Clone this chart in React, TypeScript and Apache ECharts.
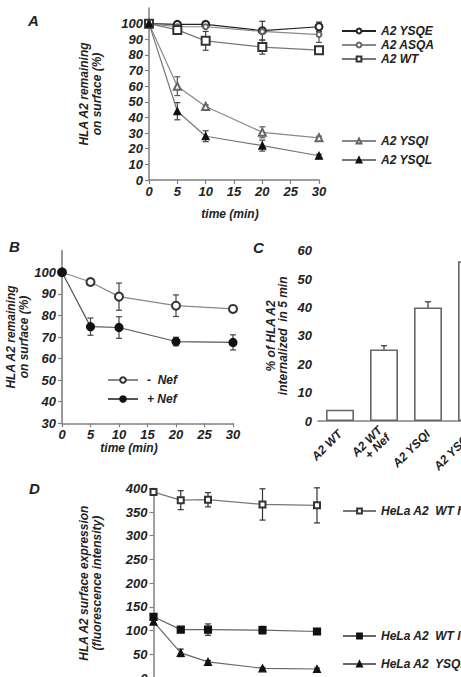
import React, { useEffect, useRef } from 'react';
import * as echarts from 'echarts';

// ---- Panel A: surface HLA A2 remaining (%) vs time (min)
const timesA = [0, 5, 10, 20, 30];
const ysqe = [100, 99.5, 99.5, 95.5, 98];
const ysqeErr = [0, 0, 0, 6, 3];
const asqa = [100, 98, 98, 95, 93];
const asqaErr = [0, 0, 0, 0, 5];
const wtA = [100, 96, 89, 85, 83];
const wtAErr = [0, 1, 6, 4.5, 1.5];
const ysqi = [100, 60, 47, 30.5, 27];
const ysqiErr = [0, 6, 1, 3.5, 1];
const ysql = [100, 44, 28, 22, 15.5];
const ysqlErr = [0, 5.5, 3.5, 3.5, 1];
const yTicksA = [0, 10, 20, 30, 40, 50, 60, 70, 80, 90, 100];

// ---- Panel B: +/- Nef
const timesB = [0, 5, 10, 20, 30];
const minusNef = [100, 95.5, 88.7, 84.5, 83];
const minusNefErr = [0, 1.5, 6.3, 5, 1.5];
const plusNef = [100, 74.8, 74.4, 67.9, 67.5];
const plusNefErr = [0, 4, 5, 2, 3.5];
const yTicksB = [30, 40, 50, 60, 70, 80, 90, 100];

// ---- Panel C: % internalized in 5 min
const catsC = ['A2 WT', 'A2 WT\n+ Nef', 'A2 YSQI', 'A2 YSQL'];
const valsC = [4, 25.2, 40, 56.3];
const errC = [0, 1.3, 2, 2];

// ---- Panel D: surface expression (fluorescence intensity)
const timesD = [0, 5, 10, 20, 30];
const wtHigh = [392, 375, 376, 366, 364];
const wtHighErr = [0, 20, 15, 33, 37];
const wtLow = [129, 102, 102, 101, 98];
const wtLowErr = [0, 3, 12, 8, 6];
const ysqlD = [119, 53, 34, 20.5, 19];
const ysqlDErr = [0, 8, 3, 2, 2];

const FONT = 'Liberation Sans, Arial, sans-serif';
const TXT = { fontFamily: FONT, fontWeight: 'bold' as const, fontStyle: 'italic' as const, fontSize: 12, color: '#222' };
const TICK = { ...TXT, fontSize: 13 };
const AXC = '#808080';

const pts = (xs: number[], ys: number[]) => xs.map((x, i) => [x, ys[i]]);
const errs = (xs: number[], ys: number[], es: number[]) =>
  xs.map((x, i) => [x, ys[i] - es[i], ys[i] + es[i]]).filter((_, i) => es[i] > 0);

const errRender = (color: string) => (params: any, api: any) => {
  const x = api.value(0);
  const lo = api.coord([x, api.value(1)]);
  const hi = api.coord([x, api.value(2)]);
  const c = 3;
  const style = { stroke: color, lineWidth: 1.2 };
  return {
    type: 'group',
    children: [
      { type: 'line', shape: { x1: lo[0], y1: lo[1], x2: hi[0], y2: hi[1] }, style },
      { type: 'line', shape: { x1: lo[0] - c, y1: lo[1], x2: lo[0] + c, y2: lo[1] }, style },
      { type: 'line', shape: { x1: hi[0] - c, y1: hi[1], x2: hi[0] + c, y2: hi[1] }, style },
    ],
  };
};

const errSeries = (idx: number, data: number[][], color: string) => ({
  type: 'custom',
  xAxisIndex: idx,
  yAxisIndex: idx,
  renderItem: errRender(color),
  encode: { x: 0, y: [1, 2] },
  data,
  z: 2,
  silent: true,
});

const lineSeries = (
  idx: number, name: string, data: number[][], symbol: string, size: number,
  lineColor: string, markColor: string,
) => ({
  type: 'line',
  name,
  xAxisIndex: idx,
  yAxisIndex: idx,
  data,
  symbol,
  symbolSize: size,
  showSymbol: true,
  lineStyle: { color: lineColor, width: 1.2 },
  itemStyle: { color: markColor, borderColor: markColor, borderWidth: 1.2 },
  z: 3,
});

const axisCommon = {
  axisLine: { lineStyle: { color: AXC, width: 1.5 } },
  axisTick: { length: 4, lineStyle: { color: AXC, width: 1.2 } },
  axisLabel: { ...TICK },
  splitLine: { show: false },
};

const nameStyle = { ...TXT, lineHeight: 13 };

export default function App() {
  const ref = useRef<HTMLDivElement>(null);
  useEffect(() => {
    if (!ref.current) return;
    const chart = echarts.init(ref.current, undefined, { renderer: 'svg' });
    const legendText = { ...TXT, lineHeight: 14 };
    chart.setOption({
      animation: false,
      backgroundColor: '#fff',
      grid: [
        { left: 149, top: 8, width: 170, height: 172 },
        { left: 62, top: 250.7, width: 171, height: 172.6 },
        { left: 318, top: 250.7, width: 176, height: 170.3 },
        { left: 153.5, top: 488.3, width: 163.5, height: 189.7 },
      ],
      xAxis: [
        { ...axisCommon, gridIndex: 0, type: 'value', min: 0, max: 30, interval: 5, axisLabel: { ...TICK, margin: 5 } },
        { ...axisCommon, gridIndex: 1, type: 'value', min: 0, max: 30, interval: 5, axisLabel: { ...TICK, margin: 5 } },
        {
          ...axisCommon, gridIndex: 2, type: 'category', data: catsC,
          axisTick: { show: false },
          axisLabel: { ...TXT, rotate: 45, interval: 0, margin: 11, lineHeight: 11 },
        },
        { ...axisCommon, gridIndex: 3, type: 'value', min: 0, max: 30, interval: 5 },
      ],
      yAxis: [
        {
          ...axisCommon, gridIndex: 0, type: 'value', min: 0, max: 110, interval: 10,
          axisTick: { ...axisCommon.axisTick, customValues: yTicksA },
          axisLabel: { ...TICK, customValues: yTicksA, margin: 6 },
          name: 'HLA A2 remaining\non surface (%)', nameLocation: 'middle', nameRotate: 90, nameGap: 46,
          nameTextStyle: nameStyle,
        },
        {
          ...axisCommon, gridIndex: 1, type: 'value', min: 30, max: 110, interval: 10,
          axisLine: { lineStyle: { color: '#999', width: 2 } },
          axisTick: { ...axisCommon.axisTick, customValues: yTicksB },
          axisLabel: { ...TICK, customValues: yTicksB, margin: 6 },
          name: 'HLA A2 remaining\non surface (%)', nameLocation: 'middle', nameRotate: 90, nameGap: 30,
          nameTextStyle: nameStyle,
        },
        {
          ...axisCommon, gridIndex: 2, type: 'value', min: 0, max: 60, interval: 10,
          axisLabel: { ...TICK, margin: 6 },
          name: '% of HLA A2\ninternalized  in 5 min', nameLocation: 'middle', nameRotate: 90, nameGap: 29,
          nameTextStyle: { ...nameStyle, lineHeight: 12 },
        },
        {
          ...axisCommon, gridIndex: 3, type: 'value', min: 0, max: 400, interval: 50,
          axisLabel: { ...TICK, margin: 6 },
          name: 'HLA A2 surface expression\n(fluorescence intensity)', nameLocation: 'middle', nameRotate: 90, nameGap: 50,
          nameTextStyle: nameStyle,
        },
      ],
      legend: [
        {
          data: ['A2 YSQE', 'A2 ASQA', 'A2 WT'], orient: 'vertical', left: 336, top: 19,
          itemWidth: 34, itemHeight: 6, itemGap: 0, textStyle: legendText,
        },
        {
          data: ['A2 YSQI', 'A2 YSQL'], orient: 'vertical', left: 336, top: 129,
          itemWidth: 34, itemHeight: 6, itemGap: 5, textStyle: legendText,
        },
        {
          data: ['-  Nef', '+ Nef'], orient: 'vertical', left: 102, top: 368,
          itemWidth: 30, itemHeight: 7, itemGap: 5, textStyle: { ...legendText, padding: [0, 0, 0, 4] },
        },
        {
          data: ['HeLa A2  WT high'], orient: 'vertical', left: 337, top: 499,
          itemWidth: 33, itemHeight: 6, itemGap: 0, textStyle: legendText,
        },
        {
          data: ['HeLa A2  WT low', 'HeLa A2  YSQL'], orient: 'vertical', left: 337, top: 624,
          itemWidth: 33, itemHeight: 6, itemGap: 14, textStyle: legendText,
        },
      ],
      graphic: [
        { type: 'text', left: 28, top: 13, style: { text: 'A', font: 'italic bold 15px ' + FONT, fill: '#222' } },
        { type: 'text', left: 9, top: 239, style: { text: 'B', font: 'italic bold 15px ' + FONT, fill: '#222' } },
        { type: 'text', left: 253, top: 240, style: { text: 'C', font: 'italic bold 15px ' + FONT, fill: '#222' } },
        { type: 'text', left: 29, top: 481, style: { text: 'D', font: 'italic bold 15px ' + FONT, fill: '#222' } },
        { type: 'text', x: 230, y: 214, style: { text: 'time (min)', font: 'italic bold 12px ' + FONT, fill: '#222', align: 'center', verticalAlign: 'middle' } },
        { type: 'text', x: 129, y: 448, style: { text: 'time (min)', font: 'italic bold 12px ' + FONT, fill: '#222', align: 'center', verticalAlign: 'middle' } },
      ],
      series: [
        // Panel A
        errSeries(0, errs(timesA, ysqe, ysqeErr), '#333'),
        errSeries(0, errs(timesA, asqa, asqaErr), '#555'),
        errSeries(0, errs(timesA, wtA, wtAErr), '#444'),
        errSeries(0, errs(timesA, ysqi, ysqiErr), '#555'),
        errSeries(0, errs(timesA, ysql, ysqlErr), '#444'),
        lineSeries(0, 'A2 YSQE', pts(timesA, ysqe), 'emptyCircle', 7, '#222', '#222'),
        lineSeries(0, 'A2 ASQA', pts(timesA, asqa), 'emptyCircle', 5, '#888', '#666'),
        lineSeries(0, 'A2 WT', pts(timesA, wtA), 'emptyRect', 8, '#777', '#333'),
        lineSeries(0, 'A2 YSQI', pts(timesA, ysqi), 'emptyTriangle', 7, '#888', '#666'),
        lineSeries(0, 'A2 YSQL', pts(timesA, ysql), 'triangle', 7, '#777', '#111'),
        // Panel B
        errSeries(1, errs(timesB, minusNef, minusNefErr), '#444'),
        errSeries(1, errs(timesB, plusNef, plusNefErr), '#444'),
        lineSeries(1, '-  Nef', pts(timesB, minusNef), 'emptyCircle', 8, '#888', '#333'),
        lineSeries(1, '+ Nef', pts(timesB, plusNef), 'circle', 8, '#555', '#111'),
        // Panel C
        {
          type: 'bar', xAxisIndex: 2, yAxisIndex: 2, data: valsC, barWidth: 28,
          itemStyle: { color: '#fff', borderColor: '#666', borderWidth: 1.6 }, z: 2,
        },
        errSeries(2, catsC.map((_, i) => [i, valsC[i] - errC[i], valsC[i] + errC[i]]).filter((_, i) => errC[i] > 0), '#333'),
        // Panel D
        errSeries(3, errs(timesD, wtHigh, wtHighErr), '#333'),
        errSeries(3, errs(timesD, wtLow, wtLowErr), '#333'),
        errSeries(3, errs(timesD, ysqlD, ysqlDErr), '#333'),
        lineSeries(3, 'HeLa A2  WT high', pts(timesD, wtHigh), 'emptyRect', 6, '#777', '#333'),
        lineSeries(3, 'HeLa A2  WT low', pts(timesD, wtLow), 'rect', 7, '#666', '#111'),
        lineSeries(3, 'HeLa A2  YSQL', pts(timesD, ysqlD), 'triangle', 7, '#666', '#111'),
      ],
    });
    return () => chart.dispose();
  }, []);
  return (
    <div style={{ position: 'fixed', left: 0, top: 0, width: 461, height: 677, overflow: 'hidden', background: '#fff' }}>
      <div ref={ref} style={{ width: 540, height: 700 }} />
    </div>
  );
}
